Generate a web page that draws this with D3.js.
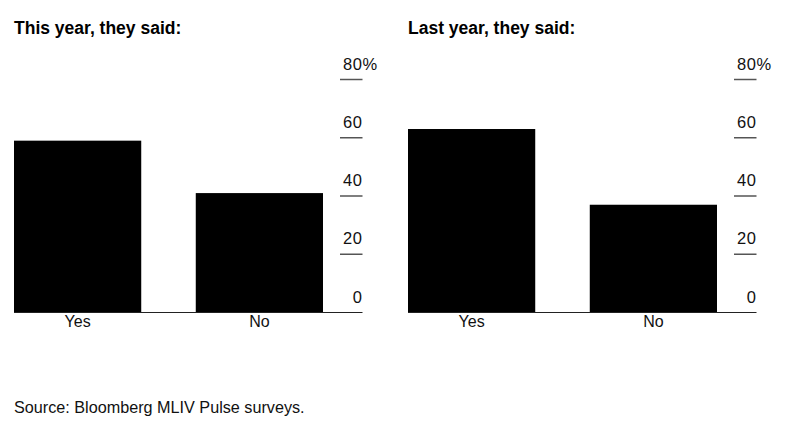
<!DOCTYPE html>
<html>
<head>
<meta charset="utf-8">
<script src="https://cdn.jsdelivr.net/npm/d3@7"></script>
<style>
  html, body { margin: 0; padding: 0; background: #fff; }
  svg { display: block; font-family: "Liberation Sans", Arial, sans-serif; }
</style>
</head>
<body>
<svg id="chart" width="799" height="423"></svg>
<script>
const categories = ["Yes", "No"];
const thisYearValues = [59, 41];
const lastYearValues = [63, 37];
const panelTitles = ["This year, they said:", "Last year, they said:"];
const yTicks = [0, 20, 40, 60, 80];
const tickLabels = ["0", "20", "40", "60", "80%"];
const sourceText = "Source: Bloomberg MLIV Pulse surveys.";

const svg = d3.select("#chart");

const y = d3.scaleLinear().domain([0, 80]).range([312.5, 79.5]);

function drawPanel(x0, title, values) {
  const g = svg.append("g");
  const data = categories.map((c, i) => ({ cat: c, val: values[i] }));
  const x = d3.scaleBand().domain(categories).range([x0, x0 + 309]).paddingInner(0.3).paddingOuter(0);
  const axisRight = x0 + 348.5;
  const tickLeft = x0 + 326;

  g.append("text")
    .attr("x", x0).attr("y", 34)
    .attr("font-size", 17.5).attr("font-weight", "bold").attr("fill", "#000")
    .text(title);

  g.selectAll("rect.bar").data(data).enter().append("rect")
    .attr("class", "bar")
    .attr("x", d => x(d.cat))
    .attr("width", x.bandwidth())
    .attr("y", d => y(d.val))
    .attr("height", d => y(0) - y(d.val))
    .attr("fill", "#000");

  // tick lines (except 0, which is the baseline)
  g.selectAll("line.tick").data(yTicks.filter(t => t !== 0)).enter().append("line")
    .attr("class", "tick")
    .attr("x1", tickLeft).attr("x2", axisRight)
    .attr("y1", d => y(d)).attr("y2", d => y(d))
    .attr("stroke", "#555").attr("stroke-width", 1.5);

  // tick labels: number right-aligned at axis end, "%" hanging past it
  yTicks.forEach((d, i) => {
    const lab = tickLabels[i];
    const num = lab.endsWith("%") ? lab.slice(0, -1) : lab;
    g.append("text")
      .attr("x", axisRight).attr("y", y(d) - 10)
      .attr("font-size", 16.5).attr("letter-spacing", 0.6).attr("fill", "#111")
      .attr("text-anchor", "end").text(num);
    if (lab.endsWith("%")) {
      g.append("text")
        .attr("x", axisRight).attr("y", y(d) - 10)
        .attr("font-size", 16.5).attr("fill", "#111")
        .attr("text-anchor", "start").text("%");
    }
  });

  // baseline
  g.append("line")
    .attr("x1", x0).attr("x2", axisRight)
    .attr("y1", y(0)).attr("y2", y(0))
    .attr("stroke", "#222").attr("stroke-width", 1.2);

  // category labels
  g.selectAll("text.cat").data(data).enter().append("text")
    .attr("class", "cat")
    .attr("x", d => x(d.cat) + x.bandwidth() / 2)
    .attr("y", 327)
    .attr("font-size", 16).attr("fill", "#111")
    .attr("text-anchor", "middle")
    .text(d => d.cat);
}

drawPanel(14, panelTitles[0], thisYearValues);
drawPanel(408, panelTitles[1], lastYearValues);

svg.append("text")
  .attr("x", 14).attr("y", 413)
  .attr("font-size", 16.2).attr("fill", "#111")
  .text(sourceText);
</script>
</body>
</html>
